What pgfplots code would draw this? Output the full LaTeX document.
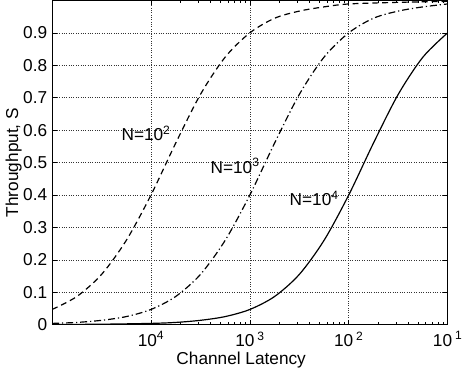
\documentclass[border=0pt]{standalone}
\usepackage{pgfplots}
\pgfplotsset{compat=1.18}
\usepackage{fontspec}
\setmainfont{Liberation Sans}
\begin{document}
\fontsize{17.5}{20}\selectfont
\begin{tikzpicture}
\begin{axis}[
  scale only axis, width=400bp, height=328bp,
  xmode=log, xmin=1e-5, xmax=1e-1, ymin=0, ymax=1,
  xtick={1e-4,1e-3,1e-2,1e-1},
  xticklabels={10\textsuperscript{4}, 10\,\textsuperscript{3}, 10\,\textsuperscript{2}, 10\,\textsuperscript{1}},
  ytick={0,0.1,0.2,0.3,0.4,0.5,0.6,0.7,0.8,0.9},
  yticklabel style={xshift=1bp, /pgf/number format/.cd, fixed, precision=1, assume math mode=true},
  tick align=inside, major tick length=5bp, minor tick length=3bp,
  tick style={black, line width=0.6bp},
  grid=major, major grid style={dotted, black!80, line width=0.6bp},
  axis line style={line width=0.8bp},
  xticklabel style={yshift=-1bp},
  xlabel={Channel Latency}, ylabel={Throughput, S},
  xlabel style={at={(axis description cs:0.478,-0.11)}, anchor=center},
  ylabel style={at={(axis description cs:-0.097,0.5)}, anchor=center},
  clip=true,
]
\addplot[black, line width=1.2bp, smooth] coordinates {
(1e-5,0.0005)(3.1623e-5,0.0015)(1e-4,0.004)(1.7783e-4,0.007)(3.1623e-4,0.0135)(5.6234e-4,0.025)(1e-3,0.047)(1.7783e-3,0.087)(3.1623e-3,0.155)(5.6234e-3,0.26)(1e-2,0.40)(1.7783e-2,0.56)(3.1623e-2,0.71)(5.6234e-2,0.825)(1e-1,0.90)};
\addplot[black, line width=1.2bp, smooth, dash pattern=on 7bp off 3bp on 1.2bp off 3bp] coordinates {
(1e-5,0.004)(1.7783e-5,0.007)(3.1623e-5,0.0135)(5.6234e-5,0.025)(1e-4,0.047)(1.7783e-4,0.087)(3.1623e-4,0.155)(5.6234e-4,0.26)(1e-3,0.40)(1.7783e-3,0.56)(3.1623e-3,0.71)(5.6234e-3,0.825)(1e-2,0.90)(1.7783e-2,0.945)(3.1623e-2,0.967)(5.6234e-2,0.98)(1e-1,0.989)};
\addplot[black, line width=1.2bp, smooth, dash pattern=on 6bp off 4bp] coordinates {
(1e-5,0.047)(1.7783e-5,0.087)(3.1623e-5,0.155)(5.6234e-5,0.26)(1e-4,0.40)(1.7783e-4,0.56)(3.1623e-4,0.71)(5.6234e-4,0.825)(1e-3,0.90)(1.7783e-3,0.945)(3.1623e-3,0.967)(5.6234e-3,0.98)(1e-2,0.989)(3.1623e-2,0.994)(1e-1,0.997)};
\node at (axis cs:8.9e-5,0.59) {N=10\textsuperscript{2}};
\node at (axis cs:7.08e-4,0.49) {N=10\textsuperscript{3}};
\node at (axis cs:4.47e-3,0.39) {N=10\textsuperscript{4}};
\path[use as bounding box] (rel axis cs:-0.135,-0.158) rectangle (rel axis cs:1.035,1.009);
\end{axis}
\end{tikzpicture}
\end{document}
